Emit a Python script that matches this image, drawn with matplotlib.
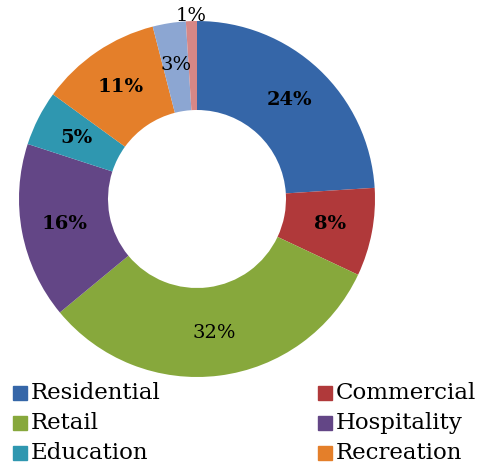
import matplotlib
matplotlib.use("Agg")
import matplotlib.pyplot as plt
from matplotlib.patches import Rectangle
import numpy as np

# donut data, clockwise from 12 o'clock
categories = ["Residential", "Commercial", "Retail", "Hospitality",
              "Education", "Recreation", "Other A", "Other B"]
shares = [24, 8, 32, 16, 5, 11, 3, 1]
colors = ["#3566a8", "#b0393a", "#87a83c", "#634686",
          "#2f97b0", "#e47f2a", "#8ca6d2", "#d68786"]
label_bold = [True, True, False, True, True, True, False, False]

# legend shows only the first six
legend_names = categories[:6]

W, H = 481, 466
fig = plt.figure(figsize=(W / 100, H / 100), dpi=100)

cx, cy, R = 197, 199, 178
ax = fig.add_axes([(cx - R) / W, (H - cy - R) / H, 2 * R / W, 2 * R / H])

wedges, _ = ax.pie(shares, colors=colors, startangle=90, counterclock=False,
                   radius=1.0, wedgeprops=dict(width=0.5, linewidth=0),
                   center=(0, 0))
ax.set_xlim(-1, 1)
ax.set_ylim(-1, 1)
ax.axis("off")

# percentage labels
total = sum(shares)
ang = 90.0
for i, v in enumerate(shares):
    mid = ang - v / total * 360 / 2
    ang -= v / total * 360
    r = 0.76 if v > 1 else 1.03
    x = r * np.cos(np.radians(mid))
    y = r * np.sin(np.radians(mid))
    ax.text(x, y, f"{v}%", ha="center", va="center", fontsize=14,
            family="DejaVu Serif", color="black",
            fontweight="bold" if label_bold[i] else "normal")

# legend, drawn by hand in figure pixels
col_x = [13, 318]
row_y = [393, 423, 453]
for i, name in enumerate(legend_names):
    x0 = col_x[i % 2]
    y0 = row_y[i // 2]
    fig.patches.append(Rectangle((x0 / W, (H - y0 - 7) / H), 14 / W, 14 / H,
                                 transform=fig.transFigure, color=colors[i]))
    fig.text((x0 + 18) / W, (H - y0) / H, name, ha="left", va="center",
             fontsize=16.5, family="DejaVu Serif", color="black")

fig.savefig("out.png", dpi=100)
